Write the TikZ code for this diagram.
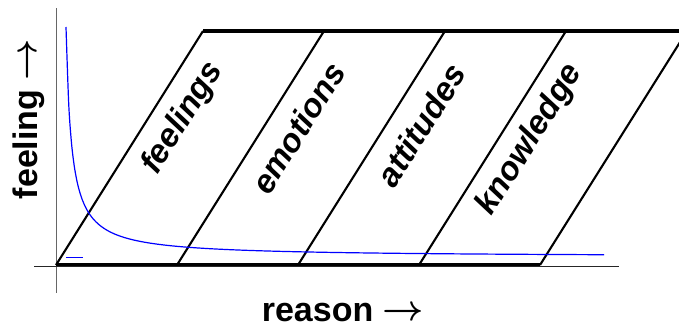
\documentclass[tikz,border=0pt]{standalone}
\usepackage{fontspec}
\setmainfont{Liberation Sans}
\newcommand{\bigarrow}{{\fontsize{10}{12}\selectfont\raisebox{0.9pt}{\scalebox{3.6}{\boldmath$\rightarrow$}}}}
\begin{document}
\begin{tikzpicture}[x=1pt,y=-1pt,
  thickline/.style={line width=3.8pt,black},
  slant/.style={line width=2.1pt,black},
  axisline/.style={line width=1pt,gray!80!black},
  curve/.style={line width=1.2pt,blue},
  axislabel/.style={font=\fontsize{34}{40}\selectfont\bfseries,inner sep=0pt},
  striplabel/.style={font=\fontsize{33}{40}\selectfont\bfseries\itshape,inner sep=0pt,rotate=57.9}]
\useasboundingbox (0,0) rectangle (679,327);
\clip (0,0) rectangle (679,327);
% axes
\coordinate (ya) at (56,8);
\coordinate (yb) at (56,293);
\coordinate (xa) at (34,266.3);
\coordinate (xb) at (619,266.3);
\draw[axisline] (ya) -- (yb);
\draw[axisline,black!85] (xa) -- (xb);
% thick lines
\coordinate (b0) at (56,264.5);
\coordinate (b4) at (540,264.5);
\coordinate (t0) at (203,31);
\coordinate (tR) at (690,31);
\draw[thickline] (b0) -- (b4);
\draw[thickline] (t0) -- (tR);
% slanted lines
\foreach \i in {0,...,4}{
  \coordinate (s\i) at ({56+121*\i},265);
  \coordinate (e\i) at ({203+121*\i},31);
  \draw[slant] (s\i) -- (e\i);
}
% blue curve
\draw[curve] plot[domain=66:604,samples=200,smooth] (\x,{257-1242/(\x-60.6)});
\coordinate (bt1) at (66,257);
\coordinate (bt2) at (83,257);
\draw[blue,line width=0.8pt] (bt1) -- (bt2);
% strip labels
\node[striplabel] (l1) at (183,118) {feelings};
\node[striplabel] (l2) at (298,128) {emotions};
\node[striplabel] (l3) at (421,125) {attitudes};
\node[striplabel] (l4) at (530,140) {knowledge};
% axis labels
\node[axislabel,anchor=base] (xl) at (343,321) {reason \bigarrow};
\node[axislabel,anchor=base,rotate=90] (yl) at (37,119) {feeling \bigarrow};
\end{tikzpicture}
\end{document}
